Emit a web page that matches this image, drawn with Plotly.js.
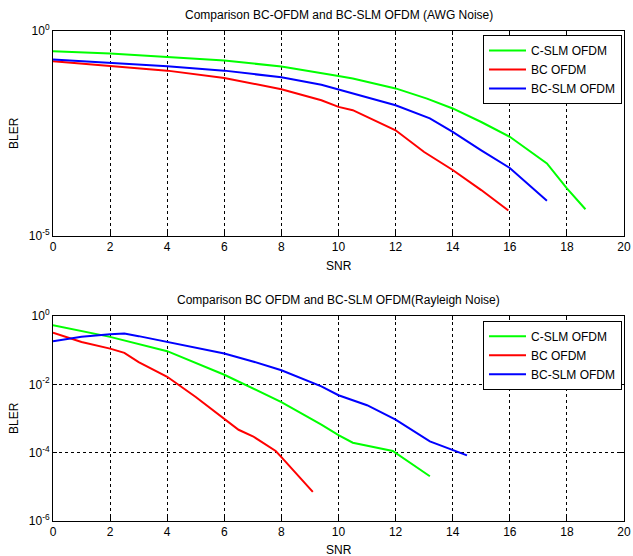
<!DOCTYPE html>
<html>
<head>
<meta charset="utf-8">
<script src="https://cdn.plot.ly/plotly-3.0.1.min.js"></script>
<style>html,body{margin:0;padding:0;background:#fff;}#chart{width:633px;height:556px;}</style>
</head>
<body>
<div id="chart"></div>
<script>
// ---- Data ----
const seriesNames = ["C-SLM OFDM", "BC OFDM", "BC-SLM OFDM"];
const seriesColors = ["#00ff00", "#ff0000", "#0000ff"];

// AWG Noise panel
const awgSnrCslm  = [0, 2, 4, 6, 8, 9.4, 10, 10.5, 12, 13.1, 14, 15, 16, 17.3, 18, 18.65];
const awgBlerCslm = [0.321, 0.281, 0.233, 0.191, 0.136, 0.0955, 0.0794, 0.0692, 0.0398, 0.0224, 0.0129, 0.00603, 0.00263, 5.9e-4, 1.45e-4, 4.5e-5];
const awgSnrBc    = [0, 2, 4, 6, 8, 9.4, 10, 10.5, 12, 13, 14, 15, 15.95];
const awgBlerBc   = [0.183, 0.141, 0.108, 0.0718, 0.038, 0.0204, 0.0141, 0.0117, 0.0038, 0.00112, 4.07e-4, 1.32e-4, 4.2e-5];
const awgSnrBcSlm = [0, 2, 4, 6, 8, 9.4, 10, 12, 13.2, 14, 15, 16, 17.3];
const awgBlerBcSlm= [0.201, 0.166, 0.138, 0.108, 0.0741, 0.049, 0.0372, 0.0155, 0.00741, 0.00347, 0.00123, 4.57e-4, 7.2e-5];

// Rayleigh Noise panel
const raySnrCslm  = [0, 2, 4, 6, 8, 9.4, 10, 10.5, 11.9, 13.2];
const rayBlerCslm = [0.535, 0.245, 0.0933, 0.0191, 0.00302, 6.6e-4, 3.24e-4, 1.95e-4, 1.12e-4, 2.04e-5];
const raySnrBc    = [0, 1, 2, 2.5, 3, 4, 5, 6, 6.5, 7, 7.8, 8, 9.1];
const rayBlerBc   = [0.326, 0.174, 0.111, 0.0832, 0.0447, 0.0166, 0.00427, 0.001, 4.68e-4, 3.02e-4, 1.12e-4, 7.41e-5, 7.08e-6];
const raySnrBcSlm = [0, 1, 2, 2.5, 3, 4, 5, 6, 7, 8, 9.4, 10, 11, 12, 13.2, 14.5];
const rayBlerBcSlm= [0.182, 0.245, 0.291, 0.305, 0.257, 0.174, 0.123, 0.0794, 0.0468, 0.0257, 0.0087, 0.00479, 0.00245, 9.3e-4, 2.14e-4, 8.3e-5];

const xTicks = [0, 2, 4, 6, 8, 10, 12, 14, 16, 18, 20];
const topYTickVals = [1, 1e-5];
const topYTickText = ["10<sup>0</sup>", "10<sup>-5</sup>"];
const botYTickVals = [1, 1e-2, 1e-4, 1e-6];
const botYTickText = ["10<sup>0</sup>", "10<sup>-2</sup>", "10<sup>-4</sup>", "10<sup>-6</sup>"];

const titleTop = "Comparison BC-OFDM and BC-SLM OFDM (AWG Noise)";
const titleBot = "Comparison BC OFDM and BC-SLM OFDM(Rayleigh Noise)";

// ---- Traces ----
const topSets = [[awgSnrCslm, awgBlerCslm], [awgSnrBc, awgBlerBc], [awgSnrBcSlm, awgBlerBcSlm]];
const botSets = [[raySnrCslm, rayBlerCslm], [raySnrBc, rayBlerBc], [raySnrBcSlm, rayBlerBcSlm]];
const traces = [];
topSets.forEach((s, i) => traces.push({
  x: s[0], y: s[1], type: "scatter", mode: "lines", name: seriesNames[i],
  line: {color: seriesColors[i], width: 2}, xaxis: "x", yaxis: "y", legend: "legend"
}));
botSets.forEach((s, i) => traces.push({
  x: s[0], y: s[1], type: "scatter", mode: "lines", name: seriesNames[i],
  line: {color: seriesColors[i], width: 2}, xaxis: "x2", yaxis: "y2", legend: "legend2"
}));

const font = {family: "Liberation Sans, Arial, sans-serif", size: 12, color: "#000"};
const xBase = {
  range: [0, 20], tickvals: xTicks, tickmode: "array",
  showline: true, linecolor: "#000", linewidth: 1, mirror: "ticks",
  ticks: "inside", ticklen: 4, tickcolor: "#000",
  showgrid: true, gridcolor: "#000", gridwidth: 1, griddash: "3px,3px",
  zeroline: false, tickfont: font
};
const yBase = {
  type: "log", showline: true, linecolor: "#000", linewidth: 1, mirror: "ticks",
  ticks: "inside", ticklen: 4, tickcolor: "#000", zeroline: false, tickfont: font,
  tickmode: "array"
};

const legendBase = {xanchor: "right", yanchor: "top", x: 0.9965,
  bordercolor: "#000", borderwidth: 1, bgcolor: "#fff", font: font, tracegroupgap: 0, itemwidth: 37};

const layout = {
  width: 633, height: 556,
  margin: {l: 53, r: 9, t: 31, b: 35},
  paper_bgcolor: "#fff", plot_bgcolor: "#fff",
  font: font,
  showlegend: true,
  xaxis: Object.assign({}, xBase, {domain: [0, 1], anchor: "y"}),
  yaxis: Object.assign({}, yBase, {domain: [0.5816, 1], anchor: "x", range: [-5, 0],
    tickvals: topYTickVals, ticktext: topYTickText, showgrid: false}),
  xaxis2: Object.assign({}, xBase, {domain: [0, 1], anchor: "y2"}),
  yaxis2: Object.assign({}, yBase, {domain: [0, 0.4184], anchor: "x2", range: [-6, 0],
    tickvals: botYTickVals, ticktext: botYTickText,
    showgrid: true, gridcolor: "#000", gridwidth: 1, griddash: "3px,3px"}),
  legend: Object.assign({}, legendBase, {y: 0.992}),
  legend2: Object.assign({}, legendBase, {y: 0.4088}),
  annotations: [
    {text: titleTop, xref: "paper", yref: "paper", x: 0.5, y: 1.0327, xanchor: "center", yanchor: "middle", showarrow: false, font: font},
    {text: titleBot, xref: "paper", yref: "paper", x: 0.5, y: 0.451, xanchor: "center", yanchor: "middle", showarrow: false, font: font},
    {text: "SNR", xref: "paper", yref: "paper", x: 0.5, y: 0.5204, xanchor: "center", yanchor: "middle", showarrow: false, font: font},
    {text: "SNR", xref: "paper", yref: "paper", x: 0.5, y: -0.0592, xanchor: "center", yanchor: "middle", showarrow: false, font: font},
    {text: "BLER", xref: "paper", yref: "paper", x: -0.0674, y: 0.791, xanchor: "center", yanchor: "middle", textangle: -90, showarrow: false, font: font},
    {text: "BLER", xref: "paper", yref: "paper", x: -0.0674, y: 0.2092, xanchor: "center", yanchor: "middle", textangle: -90, showarrow: false, font: font}
  ]
};

Plotly.newPlot("chart", traces, layout, {displayModeBar: false, staticPlot: true});
</script>
</body>
</html>
